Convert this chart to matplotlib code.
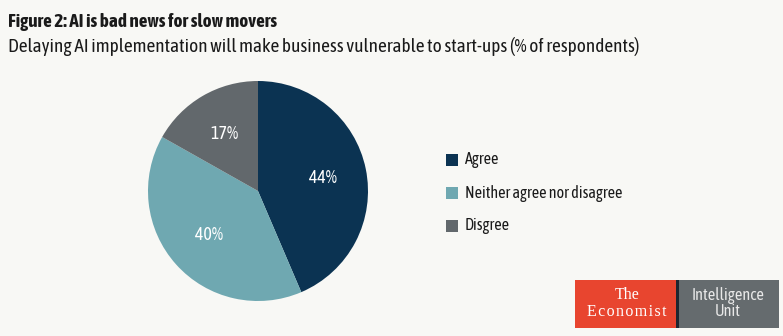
import matplotlib.pyplot as plt
import matplotlib.patches as mpatches

# data
labels = ["Agree", "Neither agree nor disagree", "Disgree"]
values = [44, 40, 17]
colors = ["#0b3352", "#6fa8b1", "#62686c"]

W, H = 783, 336
bg = "#f8f8f5"
plt.rcParams['font.family'] = ['Asap Condensed', 'DejaVu Sans']
fig = plt.figure(figsize=(W / 100, H / 100), dpi=100)
fig.patch.set_facecolor(bg)

fig.text(8 / W, 1 - 22 / H, "Figure 2: AI is bad news for slow movers",
         fontsize=13.7, fontweight='bold', color='#1a1a1a', va='center')
fig.text(8 / W, 1 - 47 / H,
         "Delaying AI implementation will make business vulnerable to start-ups (% of respondents)",
         fontsize=13.9, color='#1a1a1a', va='center')

# pie: centre (258,191), radius 110 px
r = 110
ax = fig.add_axes([(258 - r) / W, 1 - (191 + r) / H, 2 * r / W, 2 * r / H])
ax.set_facecolor(bg)
wedges, texts, autotexts = ax.pie(values, colors=colors, startangle=90, counterclock=False,
                                  autopct=lambda p: f"{round(p * sum(values) / 100):d}%",
                                  pctdistance=0.6, wedgeprops=dict(linewidth=0))
for t in autotexts:
    t.set_color('white')
    t.set_fontsize(13)
ax.set_aspect('equal')
ax.set_xlim(-1, 1)
ax.set_ylim(-1, 1)

# legend
for i, (lab, c) in enumerate(zip(labels, colors)):
    y = 160 + i * 33
    fig.patches.append(mpatches.Rectangle((446 / W, 1 - (y + 6) / H), 12 / W, 12 / H,
                                          transform=fig.transFigure, facecolor=c, edgecolor='none'))
    fig.text(465 / W, 1 - y / H, lab, fontsize=11.6, color='#1a1a1a', va='center')

# logo
fig.patches.append(mpatches.Rectangle((575 / W, 1 - 328 / H), 101 / W, 48 / H,
                                      transform=fig.transFigure, facecolor='#e8452f', edgecolor='none'))
fig.patches.append(mpatches.Rectangle((676 / W, 1 - 328 / H), 3 / W, 48 / H,
                                      transform=fig.transFigure, facecolor='#1e2630', edgecolor='none'))
fig.patches.append(mpatches.Rectangle((679 / W, 1 - 328 / H), 100 / W, 48 / H,
                                      transform=fig.transFigure, facecolor='#656b6e', edgecolor='none'))
serif = ['Liberation Serif', 'DejaVu Serif']
fig.text(627 / W, 1 - 295 / H, "The", fontsize=11.5, color='white', ha='center', va='center',
         family=serif)
fig.text(627 / W, 1 - 312 / H, "\u200a".join("Economist"), fontsize=11.5, color='white',
         ha='center', va='center', family=serif)
fig.text(728 / W, 1 - 295 / H, "Intelligence", fontsize=11.8, color='#e8e8e8', ha='center', va='center')
fig.text(728 / W, 1 - 312 / H, "Unit", fontsize=11.8, color='#e8e8e8', ha='center', va='center')

fig.savefig("out.png", dpi=100, facecolor=bg)
